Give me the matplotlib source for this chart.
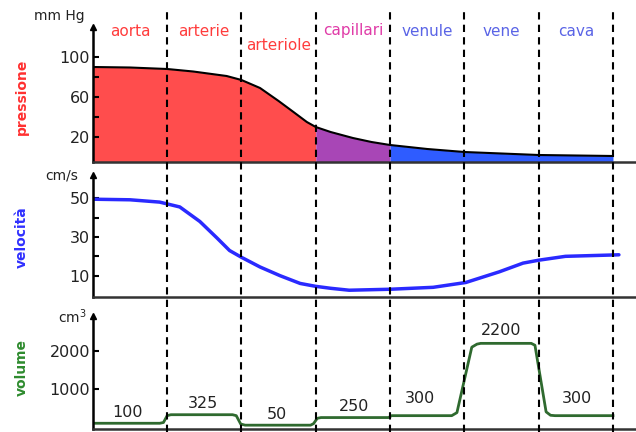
import matplotlib
matplotlib.use("Agg")
import matplotlib.pyplot as plt
import matplotlib.transforms as mtransforms

# vessel regions
regions = ['aorta', 'arterie', 'arteriole', 'capillari', 'venule', 'vene', 'cava']
region_colors = ['#ff3c3c', '#ff3c3c', '#ff3c3c', '#e03ca8', '#5a64e6', '#5a64e6', '#5a64e6']
boundaries = [1, 2, 3, 4, 5, 6, 7]

# pressure (mm Hg)
press_x = [0, 0.5, 1.0, 1.35, 1.8, 2.0, 2.25, 2.5, 2.7, 2.88, 3.0, 3.2, 3.5, 3.75, 4.0,
           4.5, 5.0, 5.5, 6.0, 6.5, 7.0]
press_y = [90, 89.5, 88, 85.5, 81, 77, 69, 56, 45, 35, 30, 25, 19, 15, 12,
           8, 5, 3.5, 2, 1.5, 1]

# velocity (cm/s)
vel_x = [0, 0.5, 0.9, 1.17, 1.44, 1.67, 1.84, 2.0, 2.25, 2.52, 2.79, 3.0, 3.2, 3.45,
         4.0, 4.58, 5.02, 5.47, 5.79, 6.0, 6.36, 7.0, 7.08]
vel_y = [49.5, 49.2, 48, 45.5, 38, 29.5, 23, 19.5, 14.5, 10, 6, 4.5, 3.5, 2.5,
         3, 4, 6.5, 12, 16.5, 18, 20, 20.7, 20.8]

# volume (cm3)
vol_x = [0, 0.9, 0.95, 1.0, 1.05, 1.88, 1.93, 1.99, 2.05, 2.93, 2.97, 3.02, 3.07,
         3.98, 4.02, 4.83, 4.9, 5.1, 5.17, 5.22, 5.9, 5.95, 6.1, 6.16, 6.22, 7.0]
vol_y = [100, 100, 120, 300, 325, 325, 300, 80, 50, 50, 90, 230, 250,
         250, 300, 300, 380, 2100, 2180, 2200, 2200, 2150, 400, 310, 300, 300]
vol_labels = ['100', '325', '50', '250', '300', '2200', '300']
vol_label_x = [0.47, 1.48, 2.48, 3.51, 4.4, 5.5, 6.51]
vol_label_y = [370, 630, 340, 550, 760, 2550, 740]

fig = plt.figure(figsize=(6.36, 4.32), dpi=100)
ax1 = fig.add_axes([0.146, 0.625, 0.854, 0.3125])
ax2 = fig.add_axes([0.146, 0.3125, 0.854, 0.2824])
ax3 = fig.add_axes([0.146, 0.007, 0.854, 0.2616])

for ax in (ax1, ax2, ax3):
    ax.set_xlim(0, 7.31)
    for s in ('top', 'right'):
        ax.spines[s].set_visible(False)
    ax.spines['left'].set_linewidth(1.8)
    ax.spines['bottom'].set_linewidth(1.8)
    ax.spines['bottom'].set_color('#333333')
    ax.set_xticks([])
    ax.tick_params(axis='y', which='both', direction='in', length=4, width=1.5,
                   labelsize=11.5, labelcolor='#222222', pad=2)
    ax.plot([0], [1], marker='^', color='black', markersize=4,
            transform=ax.transAxes, clip_on=False)

# pressure panel
ax1.set_ylim(-5, 130)
ax1.set_yticks([20, 60, 100])
ax1.set_yticks([40, 80], minor=True)
fill_cols = ['#ff4d4d', '#a846b6', '#2f5cff']
spans = [(0, 3), (3, 4), (4, 7)]
for (a, b), c in zip(spans, fill_cols):
    xs = [x for x in press_x if a <= x <= b]
    ys = [y for x, y in zip(press_x, press_y) if a <= x <= b]
    ax1.fill_between(xs, -5, ys, color=c, lw=0)
ax1.plot(press_x, press_y, color='black', lw=1.5)
for i, (name, col) in enumerate(zip(regions, region_colors)):
    ty = 112 if name == 'arteriole' else 126
    ax1.text(i + 0.5, ty, name, color=col, fontsize=11, ha='center', va='center')

# velocity panel
ax2.set_ylim(-1, 62)
ax2.set_yticks([10, 30, 50])
ax2.set_yticks([20, 40], minor=True)
ax2.plot(vel_x, vel_y, color='#2a2aff', lw=2.5, solid_capstyle='round')

# volume panel
ax3.set_ylim(-50, 2920)
ax3.set_yticks([1000, 2000])
ax3.plot(vol_x, vol_y, color='#2f6a2f', lw=2, solid_joinstyle='round')
for lx, ly, lab in zip(vol_label_x, vol_label_y, vol_labels):
    ax3.text(lx, ly, lab, fontsize=11.5, ha='center', va='center', color='#222222')

# dashed region boundaries across all panels
trans = mtransforms.blended_transform_factory(ax3.transData, fig.transFigure)
for b in boundaries:
    fig.add_artist(plt.Line2D([b, b], [0.0, 0.98], transform=trans, color='black',
                              lw=1.5, linestyle=(0, (3.5, 2.5))))

# units and axis labels
fig.text(0.094, 0.963, 'mm Hg', fontsize=10, ha='center', va='center', color='#222222')
fig.text(0.097, 0.593, 'cm/s', fontsize=10, ha='center', va='center', color='#222222')
fig.text(0.113, 0.266, 'cm$^3$', fontsize=10, ha='center', va='center', color='#222222')
fig.text(0.035, 0.775, 'pressione', rotation=90, fontsize=10, fontweight='bold',
         color='#ff3030', ha='center', va='center')
fig.text(0.035, 0.451, 'velocità', rotation=90, fontsize=10, fontweight='bold',
         color='#3030ff', ha='center', va='center')
fig.text(0.035, 0.15, 'volume', rotation=90, fontsize=10, fontweight='bold',
         color='#2e8b2e', ha='center', va='center')

fig.savefig('out.png', dpi=100)
